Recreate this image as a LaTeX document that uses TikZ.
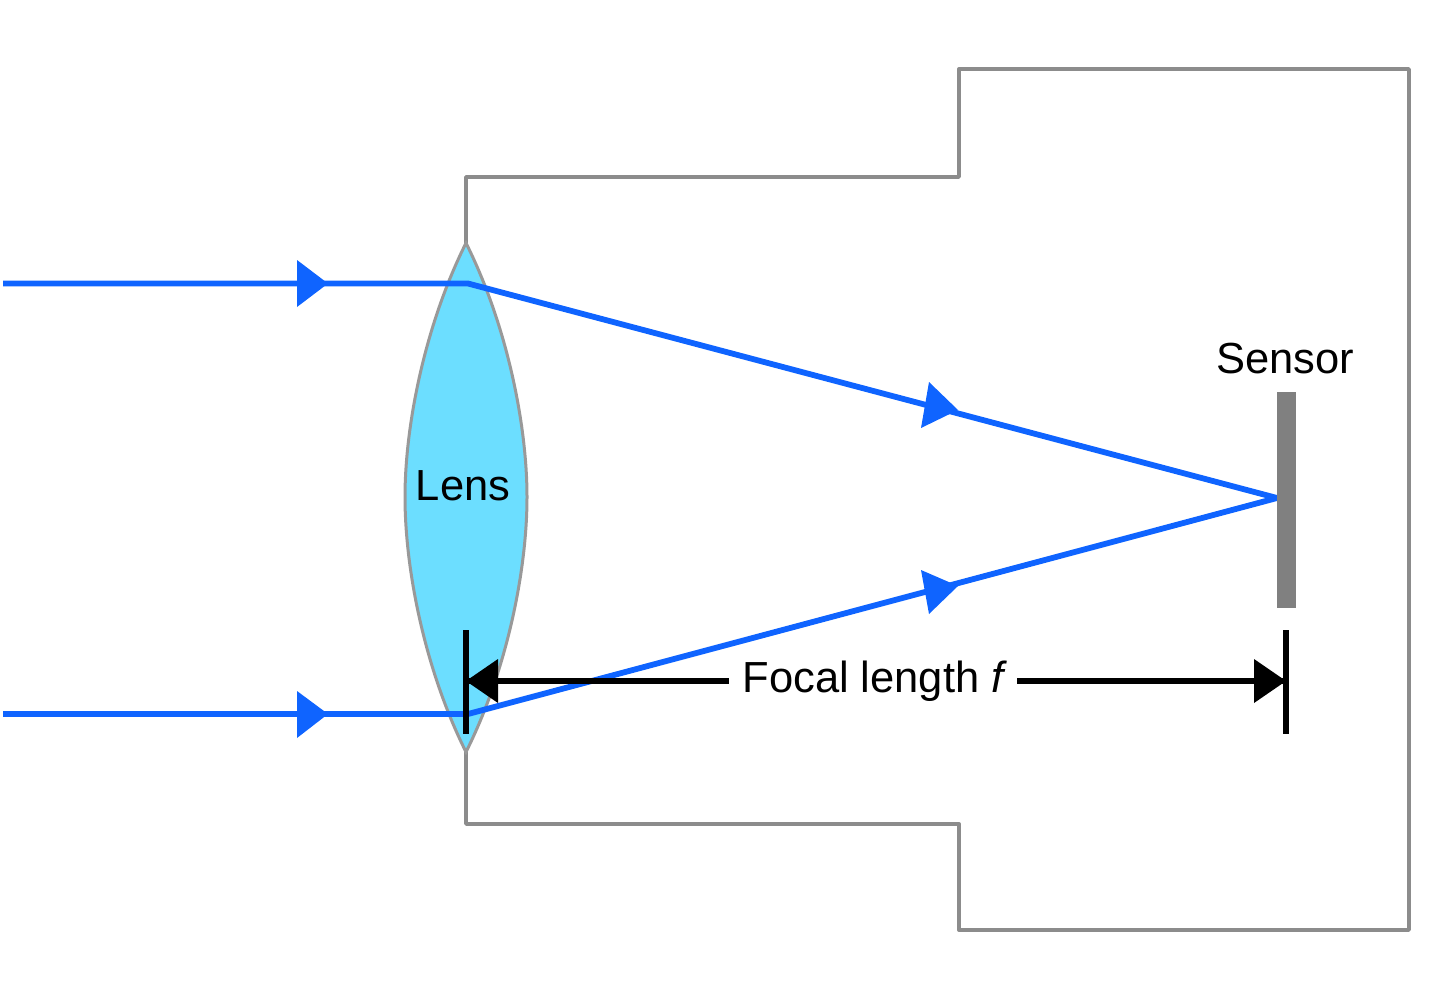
\documentclass[tikz,border=0pt]{standalone}
\usepackage{fontspec}
\setmainfont{Liberation Sans}
\begin{document}
\begin{tikzpicture}[x=1pt,y=-1pt,
  body/.style={draw=black!45,line width=3.4pt,line join=round},
  ray/.style={draw=rayblue,line width=5.8pt,line join=round},
  tipblue/.style={fill=rayblue,draw=none},
  tipblack/.style={fill=black,draw=none},
  dim/.style={draw=black,line width=5.4pt},
  lbl/.style={font=\fontsize{43.5}{43.5}\selectfont,inner sep=0pt,text=black}]
\definecolor{rayblue}{RGB}{15,100,255}
\definecolor{lensfill}{RGB}{108,222,255}
\useasboundingbox (0,0) rectangle (1440,985);
\coordinate (b1) at (466,243);
\coordinate (b2) at (466,177);
\coordinate (b3) at (959,177);
\coordinate (b4) at (959,69);
\coordinate (b5) at (1409,69);
\coordinate (b6) at (1409,930);
\coordinate (b7) at (959,930);
\coordinate (b8) at (959,824);
\coordinate (b9) at (466,824);
\coordinate (b10) at (466,752);
\draw[body] (b1) -- (b2) -- (b3) -- (b4) -- (b5) -- (b6) -- (b7) -- (b8) -- (b9) -- (b10);
\draw[fill=lensfill,draw=black!40,line width=3pt] (b10) .. controls (425,670) and (405,570) .. (405,497) .. controls (405,425) and (425,325) .. (b1) .. controls (507,325) and (527,425) .. (527,497) .. controls (527,570) and (507,670) .. (b10) -- cycle;
\coordinate (s1) at (3,283.5);
\coordinate (s2) at (3,714);
\coordinate (k1) at (468,283.5);
\coordinate (k2) at (468,714);
\coordinate (foc) at (1277,498);
\draw[ray] (s1) -- (k1) -- (foc) -- (k2) -- (s2);
\fill[tipblue] (297,260) -- (328,283.5) -- (297,307) -- cycle;
\fill[tipblue] (297,691) -- (328,714) -- (297,738) -- cycle;
\fill[tipblue] (929,382) -- (958,410) -- (921,428) -- cycle;
\fill[tipblue] (921,570) -- (958,586) -- (929,614) -- cycle;
\node[fill=black!50,minimum width=19pt,minimum height=216pt,inner sep=0pt] (sensor) at (1286,499.5) {};
\node[lbl,anchor=base] (sensorlabel) at (1285,373) {Sensor};
\node[lbl,anchor=base] (lenslabel) at (463,500) {Lens};
\node[lbl,anchor=base] (focal) at (875,692) {Focal length \textit{f}};
\coordinate (t1a) at (466,630);
\coordinate (t1b) at (466,734);
\coordinate (t2a) at (1286,630);
\coordinate (t2b) at (1286,734);
\coordinate (d1) at (466,681);
\coordinate (d2) at (1286,681);
\draw[dim] (t1a) -- (t1b);
\draw[dim] (t2a) -- (t2b);
\draw[dim] (d1) -- (729,681);
\draw[dim] (1017,681) -- (d2);
\fill[tipblack] (466,681) -- (498,659) -- (498,703) -- cycle;
\fill[tipblack] (1286,681) -- (1254,659) -- (1254,703) -- cycle;
\end{tikzpicture}
\end{document}
